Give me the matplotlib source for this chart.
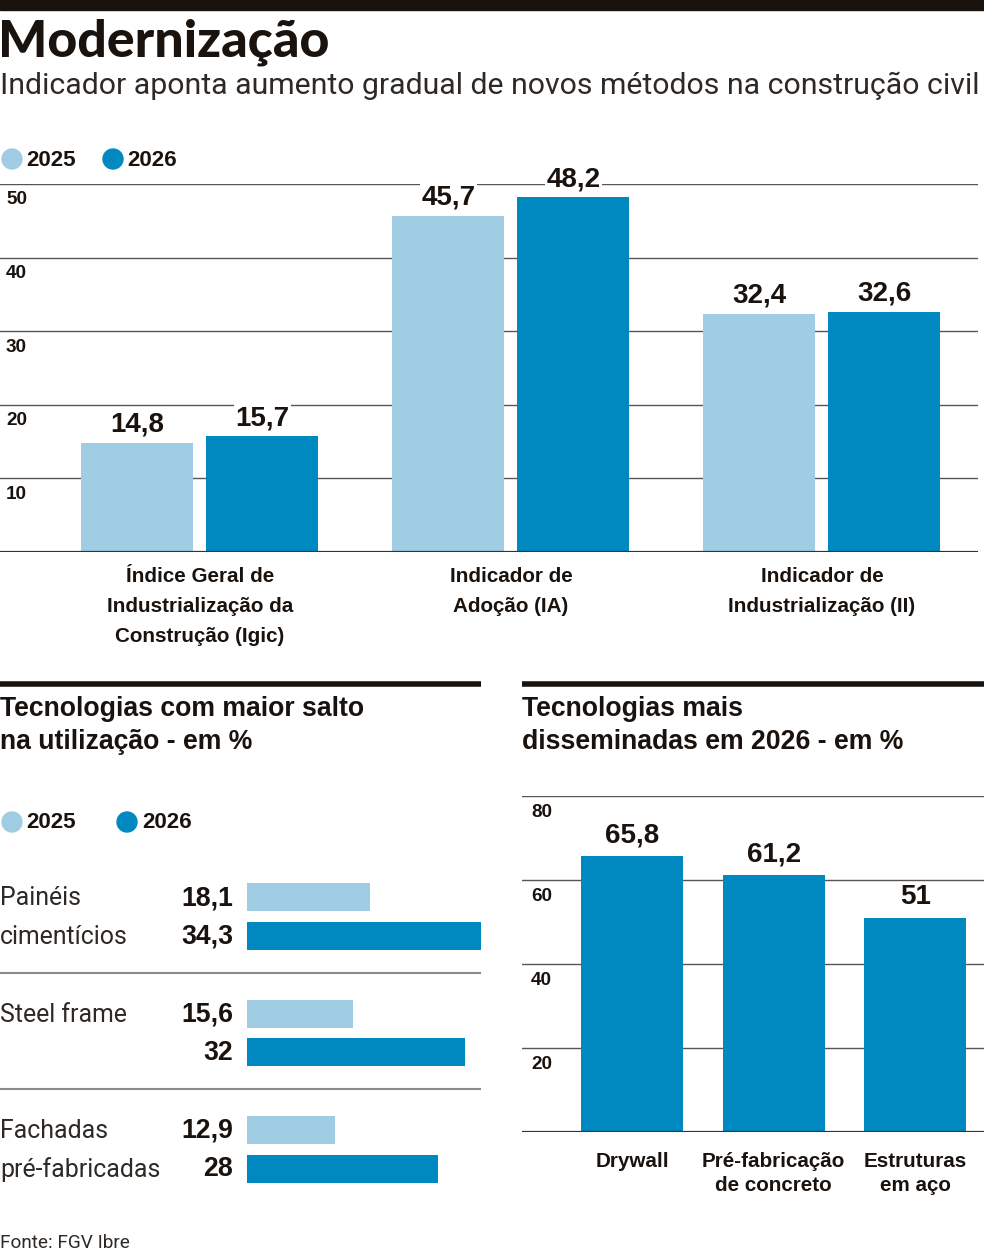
import matplotlib
matplotlib.use('Agg')
import matplotlib.pyplot as plt
from matplotlib.lines import Line2D
from matplotlib.patches import Ellipse, Rectangle

W, H = 984, 1251
LIGHT = '#a0cde4'
DARK = '#0089c1'
INK = '#1a120d'
GREY_TXT = '#2e2925'
GRID = '#555555'

BOLD = ['Liberation Sans', 'DejaVu Sans']
REG = ['Roboto', 'DejaVu Sans']
HEAVY = ['Lato', 'Liberation Sans', 'DejaVu Sans']

# ---- data ----
years = ['2025', '2026']
idx_labels = ['Índice Geral de\nIndustrialização da\nConstrução (Igic)',
              'Indicador de\nAdoção (IA)',
              'Indicador de\nIndustrialização (II)']
idx_2025 = [14.8, 45.7, 32.4]
idx_2026 = [15.7, 48.2, 32.6]
idx_ticks = [10, 20, 30, 40, 50]

jump_labels = ['Painéis\ncimentícios', 'Steel frame', 'Fachadas\npré-fabricadas']
jump_2025 = [18.1, 15.6, 12.9]
jump_2026 = [34.3, 32.0, 28.0]

spread_labels = ['Drywall', 'Pré-fabricação\nde concreto', 'Estruturas\nem aço']
spread_2026 = [65.8, 61.2, 51.0]
spread_ticks = [20, 40, 60, 80]


def fmt(v):
    s = f'{v:.1f}'.replace('.', ',')
    return s[:-2] if s.endswith(',0') else s


def fx(x):
    return x / W


def fy(y):
    return 1 - y / H


fig = plt.figure(figsize=(W / 100, H / 100), dpi=100)
fig.patch.set_facecolor('white')
renderer = fig.canvas.get_renderer()


def fit_size(text, width_px, family, weight='normal', base=20):
    """font size that makes `text` (widest line) about width_px wide"""
    t = fig.text(0, 0, text, fontsize=base, family=family, fontweight=weight)
    w = t.get_window_extent(renderer=renderer).width
    t.remove()
    return base * width_px / w


def axes_px(x0, y0, x1, y1):
    return fig.add_axes([fx(x0), fy(y1), (x1 - x0) / W, (y1 - y0) / H])


def hline(x0, x1, y, lw=1.0, color=GRID):
    fig.add_artist(Line2D([fx(x0), fx(x1)], [fy(y), fy(y)], lw=lw, color=color,
                          transform=fig.transFigure, solid_capstyle='butt'))


LEG_SIZE = fit_size('2025', 50, BOLD, 'bold')


def legend_dots(y, xs):
    for (xc, xt), col, lab in zip(xs, [LIGHT, DARK], years):
        fig.add_artist(Ellipse((fx(xc), fy(y)), 20 / W, 20 / H, color=col,
                               transform=fig.transFigure))
        fig.text(fx(xt), fy(y + 1), lab, fontsize=LEG_SIZE, fontweight='bold', color=INK,
                 family=BOLD, va='center', ha='left')


# top black band
fig.add_artist(Rectangle((0, fy(10)), 1, 10 / H, color=INK, transform=fig.transFigure))

title = 'Modernização'
fig.text(fx(-2), fy(42), title, fontsize=fit_size(title, 332, HEAVY, 'black'),
         fontweight='black', family=HEAVY, color=INK, va='center', ha='left')
subtitle = 'Indicador aponta aumento gradual de novos métodos na construção civil'
fig.text(fx(0), fy(86), subtitle, fontsize=fit_size(subtitle, 978, REG),
         family=REG, color=GREY_TXT, va='center', ha='left')

# ========== top grouped bars ==========
legend_dots(159, [(12, 26), (113, 127)])

ax1 = axes_px(0, 184, 978, 552)
x = range(len(idx_labels))
off, bw = 0.201, 0.36
b1 = ax1.bar([i - off for i in x], idx_2025, width=bw, color=LIGHT, zorder=3)
b2 = ax1.bar([i + off for i in x], idx_2026, width=bw, color=DARK, zorder=3)
ax1.set_xlim(-0.643, 2.502)
ax1.set_ylim(0, 50)
TICK_SIZE = fit_size('50', 21, BOLD, 'bold')
for t in idx_ticks:
    ax1.axhline(t, color=GRID, lw=1.0, zorder=1)
    ax1.text(-0.643 + 6 / 311, t - 1.0, str(t), fontsize=TICK_SIZE, fontweight='bold',
             family=BOLD, color=INK, va='top', ha='left', zorder=4)
ax1.axhline(0, color='#333333', lw=1.6, zorder=4)
VAL_SIZE = fit_size('45,7', 54, BOLD, 'bold')
for bars, vals in [(b1, idx_2025), (b2, idx_2026)]:
    for r, v in zip(bars, vals):
        ax1.text(r.get_x() + r.get_width() / 2, v + 0.7, fmt(v), fontsize=VAL_SIZE,
                 fontweight='bold', family=BOLD, color=INK, ha='center', va='bottom',
                 zorder=5, clip_on=False,
                 bbox=dict(facecolor='white', edgecolor='none', pad=1))
CAT_SIZE = fit_size('Industrialização da', 186, BOLD, 'bold')
for i, lab in enumerate(idx_labels):
    ax1.text(i, -2.1, lab, fontsize=CAT_SIZE, fontweight='bold', family=BOLD, color=INK,
             ha='center', va='top', linespacing=1.72, clip_on=False)
ax1.axis('off')

# ========== section headers ==========
hline(0, 481, 684, lw=4, color=INK)
hline(522, 984, 684, lw=4, color=INK)
HEAD_SIZE = fit_size('Tecnologias com maior salto', 364, BOLD, 'bold')
fig.text(fx(0), fy(726), 'Tecnologias com maior salto\nna utilização - em %',
         fontsize=HEAD_SIZE, fontweight='bold', family=BOLD, color=INK,
         va='center', ha='left', linespacing=1.35)
fig.text(fx(522), fy(726), 'Tecnologias mais\ndisseminadas em 2026 - em %',
         fontsize=HEAD_SIZE, fontweight='bold', family=BOLD, color=INK,
         va='center', ha='left', linespacing=1.35)

# ========== left: horizontal bars ==========
legend_dots(822, [(12, 26), (127, 142)])

ax2 = axes_px(247, 860, 481, 1200)
ax2.set_xlim(0, max(jump_2026))
ax2.set_ylim(1200, 860)
pitch, inner, first = 116.5, 38.5, 897
HVAL_SIZE = fit_size('34,3', 52, BOLD, 'bold')
NAME_SIZE = fit_size('pré-fabricadas', 160, REG)
for i, (lab, v1, v2) in enumerate(zip(jump_labels, jump_2025, jump_2026)):
    y1 = first + i * pitch
    y2 = y1 + inner
    ax2.barh(y1, v1, height=28, color=LIGHT, left=0)
    ax2.barh(y2, v2, height=28, color=DARK, left=0)
    fig.text(fx(233), fy(y1 + 1), fmt(v1), fontsize=HVAL_SIZE, fontweight='bold',
             family=BOLD, color=INK, ha='right', va='center')
    fig.text(fx(233), fy(y2 + 1), fmt(v2), fontsize=HVAL_SIZE, fontweight='bold',
             family=BOLD, color=INK, ha='right', va='center')
    for k, ln in enumerate(lab.split('\n')):
        fig.text(fx(0), fy(y1 + k * inner + 1), ln, fontsize=NAME_SIZE,
                 family=REG, color=GREY_TXT, ha='left', va='center')
    if i > 0:
        hline(0, 481, y1 - 41, lw=1.5, color='#8a8a8a')
ax2.axis('off')

# ========== right: vertical bars ==========
ax3 = axes_px(522, 796, 984, 1132)
xs = range(len(spread_labels))
b3 = ax3.bar(list(xs), spread_2026, width=0.72, color=DARK, zorder=3)
ax3.set_xlim(-0.776, 2.484)
ax3.set_ylim(0, 80)
for t in spread_ticks:
    ax3.axhline(t, color=GRID, lw=1.0, zorder=1)
    ax3.text(-0.776 + 9 / 141.7, t - 1.9, str(t), fontsize=TICK_SIZE, fontweight='bold',
             family=BOLD, color=INK, va='top', ha='left', zorder=4)
ax3.axhline(0, color='#333333', lw=1.6, zorder=4)
for r, v in zip(b3, spread_2026):
    ax3.text(r.get_x() + r.get_width() / 2, v + 1.8, fmt(v), fontsize=VAL_SIZE,
             fontweight='bold', family=BOLD, color=INK, ha='center', va='bottom',
             clip_on=False)
SCAT_SIZE = fit_size('Pré-fabricação', 143, BOLD, 'bold')
for i, lab in enumerate(spread_labels):
    ax3.text(i, -4.7, lab, fontsize=SCAT_SIZE, fontweight='bold', family=BOLD, color=INK,
             ha='center', va='top', linespacing=1.32, clip_on=False)
ax3.axis('off')

src = 'Fonte: FGV Ibre'
fig.text(fx(0), fy(1243), src, fontsize=fit_size(src, 130, REG),
         family=REG, color=GREY_TXT, ha='left', va='center')

fig.savefig('out.png', dpi=100)
